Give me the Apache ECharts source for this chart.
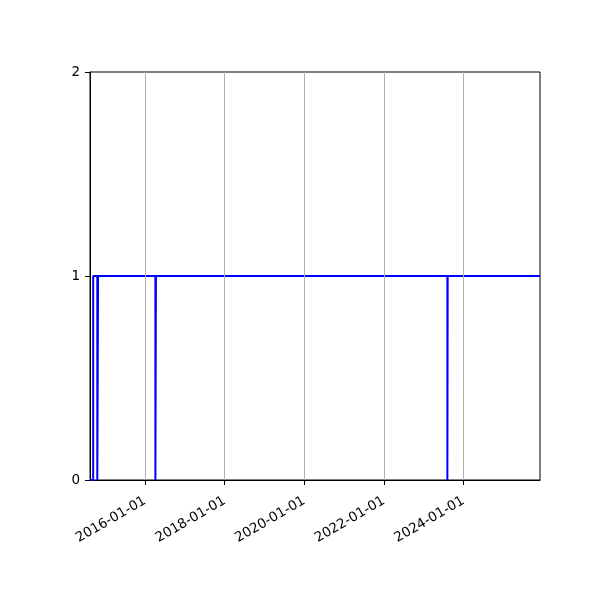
<!DOCTYPE html>
<html>
<head>
<meta charset="utf-8">
<script src="https://cdn.jsdelivr.net/npm/echarts@6/dist/echarts.min.js"></script>
<style>
  html, body { margin: 0; padding: 0; background: #fff; }
  #chart { width: 600px; height: 600px; }
</style>
</head>
<body>
<div id="chart"></div>
<script>
'use strict';

// 状态变化：从该日期起的取值
const stepDates = ['2014-08-14', '2014-09-12', '2014-10-20', '2014-10-27',
  '2016-04-05', '2016-04-10', '2023-08-06', '2023-08-09'];
const stepValues = [0, 1, 0, 1, 0, 1, 0, 1];
const endDate = '2025-12-03';

const xTicks = ['2016-01-01', '2018-01-01', '2020-01-01', '2022-01-01', '2024-01-01'];
const yTicks = [0, 1, 2];

const ts = s => Date.parse(s + 'T00:00:00Z');

// 阶梯线的点
let points = [];
stepDates.forEach((d, i) => {
  if (i > 0) points.push([ts(d), stepValues[i - 1]]);
  points.push([ts(d), stepValues[i]]);
});
points.push([ts(endDate), stepValues[stepValues.length - 1]]);

const fmt = v => {
  const d = new Date(v);
  const p = n => String(n).padStart(2, '0');
  return d.getUTCFullYear() + '-' + p(d.getUTCMonth() + 1) + '-' + p(d.getUTCDate());
};

const chart = echarts.init(document.getElementById('chart'), null, { renderer: 'canvas' });
const font = 'DejaVu Sans';

const option = {
  animation: false,
  backgroundColor: '#fff',
  textStyle: { fontFamily: font },
  grid: {
    left: 90, right: 60, top: 72, bottom: 120,
    show: true, borderColor: '#000', borderWidth: 1, backgroundColor: 'transparent'
  },
  xAxis: {
    type: 'value',
    min: ts(stepDates[0]),
    max: ts(endDate),
    axisLine: { show: true, onZero: false, lineStyle: { color: '#000', width: 1 } },
    axisTick: { show: true, length: 5, lineStyle: { color: '#000' }, customValues: xTicks.map(ts) },
    axisLabel: {
      customValues: xTicks.map(ts),
      formatter: v => fmt(v),
      rotate: 30,
      margin: 20,
      color: '#000',
      fontSize: 13.5,
      fontFamily: font
    },
    splitLine: { show: false }
  },
  yAxis: {
    type: 'value',
    min: yTicks[0],
    max: yTicks[yTicks.length - 1],
    interval: 1,
    axisLine: { show: true, lineStyle: { color: '#000', width: 1 } },
    axisTick: { show: true, length: 5, lineStyle: { color: '#000' } },
    axisLabel: { color: '#000', fontSize: 13.5, fontFamily: font, margin: 10 },
    splitLine: { show: false }
  },
  series: [
    {
      // 竖向网格线
      type: 'line',
      data: [],
      z: 1,
      silent: true,
      markLine: {
        silent: true,
        symbol: 'none',
        label: { show: false },
        lineStyle: { color: '#b0b0b0', width: 1, type: 'solid' },
        data: xTicks.map(d => ({ xAxis: ts(d) }))
      }
    },
    {
      type: 'line',
      data: points,
      z: 3,
      showSymbol: false,
      lineStyle: { color: '#0000ff', width: 2 },
      itemStyle: { color: '#0000ff' }
    }
  ]
};

chart.setOption(option);
</script>
</body>
</html>
